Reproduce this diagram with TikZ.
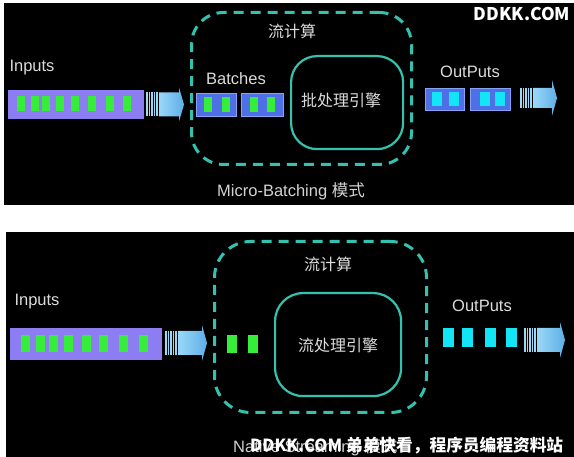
\documentclass[tikz,border=0pt]{standalone}
\usepackage{fontspec}
\setmainfont{Noto Sans CJK SC}
\newfontfamily\latinf{Liberation Sans}
\definecolor{barpurple}{HTML}{8C7EF2}
\definecolor{sqgreen}{HTML}{36EE3A}
\definecolor{sqcyan}{HTML}{12E6F6}
\definecolor{boxblue}{HTML}{4F6FE6}
\definecolor{boxedge}{HTML}{86A2F6}
\definecolor{teal}{HTML}{34C2B0}
\definecolor{arrlight}{HTML}{9AD8F8}
\definecolor{arrdark}{HTML}{5EAEE6}
\definecolor{txt}{HTML}{DCDCDC}
\newcommand\flowarrow[5]{%
  \foreach \i in {0,...,4}
    \fill[arrlight] ({#1+\i*2.6},{#2-#4}) rectangle ++(1.5,{2*#4});
  \shade[left color=arrlight, right color=arrdark]
    ({#1+13},{#2-#4}) -- ({#3-5},{#2-#4}) -- ({#3-5},{#2-#5}) -- (#3,#2)
    -- ({#3-5},{#2+#5}) -- ({#3-5},{#2+#4}) -- ({#1+13},{#2+#4}) -- cycle;}
\begin{document}
\begin{tikzpicture}[x=1pt,y=-1pt,
  bar/.style={fill=barpurple, draw=none, inner sep=0pt, anchor=north west},
  gsq/.style={fill=sqgreen, inner sep=0pt, minimum width=8pt, minimum height=15pt},
  csq/.style={fill=sqcyan, inner sep=0pt, minimum width=10pt, minimum height=14pt},
  bbox/.style={fill=boxblue, draw=boxedge, line width=1pt, inner sep=0pt, anchor=north west},
  dashbox/.style={draw=teal, line width=3pt, dash pattern=on 10pt off 7pt, rounded corners=32pt, inner sep=0pt, anchor=north west},
  engine/.style={draw=teal, line width=2.2pt, rounded corners=26pt, inner sep=0pt, anchor=north west},
  lab/.style={text=txt, font=\latinf\fontsize{16.5}{18}\selectfont, inner sep=0pt},
  cjklab/.style={text=txt, font=\fontsize{16}{18}\selectfont, inner sep=0pt},
  wmark/.style={text=white, inner sep=0pt, font=\fontsize{17.5}{19}\selectfont\bfseries}]
\useasboundingbox (0,0) rectangle (574,457);
\fill[white] (0,0) rectangle (574,457);
\fill[black] (4,3) rectangle (574,205);
\fill[black] (6,232) rectangle (574,457);

% ---------- top panel: Micro-Batching ----------
\node[lab] (tin) at (32,68) {Inputs};
\node[bar, minimum width=136pt, minimum height=29pt] (tbar) at (8,90) {};
\foreach \x [count=\k] in {20.5,34.5,46,59.5,75,92,109.5,126.5}
  \node[gsq] (tg\k) at (\x,104) {};
\flowarrow{146}{104.5}{184}{12}{17}

\node[dashbox, minimum width=220pt, minimum height=152pt] (tstream) at (190,11) {};
\node[cjklab] (tst) at (292,31) {流计算};
\node[lab] (tbat) at (236,79) {Batches};
\node[bbox, minimum width=40pt, minimum height=23pt] (tb1) at (196,93) {};
\node[bbox, minimum width=42pt, minimum height=23pt] (tb2) at (241,93) {};
\foreach \x [count=\k] in {208,225.5,254,271}
  \node[gsq] (tbg\k) at (\x,104.5) {};
\node[engine, minimum width=112pt, minimum height=93pt] (teng) at (290,55) {};
\node[cjklab] (tengl) at (341,100) {批处理引擎};
\node[lab, text=txt!90!gray, anchor=west] (tmode) at (217,191) {Micro-Batching {\rmfamily 模式}};

\node[lab] (tout) at (470,72) {OutPuts};
\node[bbox, minimum width=39pt, minimum height=22pt] (to1) at (425,88) {};
\node[bbox, minimum width=40pt, minimum height=22pt] (to2) at (470,88) {};
\foreach \x [count=\k] in {437,454,484.5,500}
  \node[csq] (toc\k) at (\x,99) {};
\flowarrow{520}{98}{557}{10}{18}
\node[wmark] (wm1) at (522,14) {DDKK.COM};

% ---------- bottom panel: Native Streaming ----------
\node[lab] (bin) at (37,302) {Inputs};
\node[bar, minimum width=152pt, minimum height=32pt] (bbar) at (10,328) {};
\foreach \x [count=\k] in {25,40,53,68,86,103,123,143}
  \node[gsq, minimum width=9pt, minimum height=17pt] (bg\k) at (\x,343.5) {};
\flowarrow{165}{343}{207}{12}{18}

\node[dashbox, minimum width=212pt, minimum height=171pt, rounded corners=36pt] (bstream) at (213,240) {};
\node[cjklab] (bst) at (328,264) {流计算};
\foreach \x [count=\k] in {232,252.5}
  \node[gsq, minimum width=10pt, minimum height=18pt] (bsg\k) at (\x,344) {};
\node[engine, minimum width=126pt, minimum height=103pt, rounded corners=28pt] (beng) at (274,292) {};
\node[cjklab] (bengl) at (338,345) {流处理引擎};

\node[lab] (bout) at (482,306) {OutPuts};
\foreach \x [count=\k] in {448,467,490,511}
  \node[csq, minimum width=11pt, minimum height=19pt] (bc\k) at (\x,337.5) {};
\flowarrow{524}{340}{565}{12}{18}

\node[lab, text=txt!90!gray, anchor=west] (bmode) at (233,447) {Native Streaming {\rmfamily 模式}};
\node[wmark, anchor=west, font=\fontsize{16.7}{19}\selectfont\bfseries] (wm2) at (250,446) {DDKK.COM 弟弟快看，程序员编程资料站};
\end{tikzpicture}
\end{document}
